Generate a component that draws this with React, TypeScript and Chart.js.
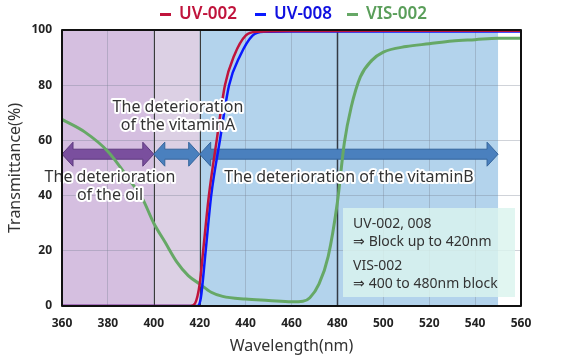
import React, { useEffect, useRef } from "react";
import { Chart, registerables } from "chart.js";

Chart.register(...registerables);

const seriesNames = ["UV-002", "UV-008", "VIS-002"];
const seriesColors = ["#c0143c", "#0a1aff", "#66a866"];
const legendTextColors = ["#c0143c", "#1010e0", "#5a9e5a"];

const uv002Wavelengths = [360, 400, 416, 418, 420, 421.5, 424, 427.4, 431, 435, 440, 445, 460, 500, 560];
const uv002Values = [0, 0, 0, 1, 8, 20, 40, 60, 80, 90.7, 98, 99.4, 99.6, 99.7, 99.7];

const uv008Wavelengths = [360, 400, 419, 420.5, 422.6, 425, 428.8, 432.8, 437.6, 443, 448, 460, 500, 560];
const uv008Values = [0, 0, 0, 3, 20, 40, 60, 80, 90.7, 98, 99.4, 99.5, 99.5, 99.5];

const vis002Wavelengths = [360, 370, 380, 390, 395, 400, 405, 410, 415, 420, 425, 430, 440, 450, 460, 465, 468, 472, 476, 480, 483, 486, 490, 495, 500, 510, 520, 530, 540, 550, 560];
const vis002Values = [67.6, 63, 56, 45, 39, 30, 23, 16, 11, 8, 5, 3.5, 2.5, 2, 1.5, 1.7, 3, 8, 18, 37.6, 59, 72, 83, 89, 92, 94, 95, 96, 96.5, 97, 97];

const xTicks = [360, 380, 400, 420, 440, 460, 480, 500, 520, 540, 560];
const yTicks = [0, 20, 40, 60, 80, 100];

const bandRanges = [
  [360, 400],
  [400, 420],
  [420, 550],
];
const bandColors = ["#d5bfe0", "#dcd0e4", "#b3d3ec"];
const dividerWavelengths = [400, 420, 480];

const arrowRanges = [
  [360, 400],
  [400, 420],
  [420, 550],
];
const arrowLevel = 55;
const arrowColors = ["#7a4f9e", "#4a80be", "#4a80be"];

const FONT = "'Noto Sans', 'Open Sans', sans-serif";

function pts(xs: number[], ys: number[]) {
  return xs.map((x, i) => ({ x, y: ys[i] }));
}

const annotationPlugin = {
  id: "annot",
  beforeDraw(chart: any) {
    const { ctx, chartArea } = chart;
    const xs = chart.scales.x;
    ctx.save();
    ctx.fillStyle = "#ffffff";
    ctx.fillRect(chartArea.left, chartArea.top, chartArea.right - chartArea.left, chartArea.bottom - chartArea.top);
    bandRanges.forEach((r, i) => {
      const x0 = xs.getPixelForValue(r[0]);
      const x1 = xs.getPixelForValue(r[1]);
      ctx.fillStyle = bandColors[i];
      ctx.fillRect(x0, chartArea.top, x1 - x0, chartArea.bottom - chartArea.top);
    });
    ctx.restore();
  },
  beforeDatasetsDraw(chart: any) {
    const { ctx, chartArea } = chart;
    const xs = chart.scales.x;
    const ys = chart.scales.y;
    ctx.save();
    dividerWavelengths.forEach((w, i) => {
      const x = Math.round(xs.getPixelForValue(w)) + 0.5;
      ctx.strokeStyle = i === 2 ? "#333a44" : "#3a3a3a";
      ctx.lineWidth = i === 2 ? 1.5 : 1;
      ctx.beginPath();
      ctx.moveTo(x, chartArea.top);
      ctx.lineTo(x, chartArea.bottom);
      ctx.stroke();
    });
    const yc = ys.getPixelForValue(arrowLevel);
    const shaftH = 10;
    const headH = 24;
    const headL = 11;
    arrowRanges.forEach((r, i) => {
      const x0 = xs.getPixelForValue(r[0]);
      const x1 = xs.getPixelForValue(r[1]);
      ctx.beginPath();
      ctx.moveTo(x0, yc);
      ctx.lineTo(x0 + headL, yc - headH / 2);
      ctx.lineTo(x0 + headL, yc - shaftH / 2);
      ctx.lineTo(x1 - headL, yc - shaftH / 2);
      ctx.lineTo(x1 - headL, yc - headH / 2);
      ctx.lineTo(x1, yc);
      ctx.lineTo(x1 - headL, yc + headH / 2);
      ctx.lineTo(x1 - headL, yc + shaftH / 2);
      ctx.lineTo(x0 + headL, yc + shaftH / 2);
      ctx.lineTo(x0 + headL, yc + headH / 2);
      ctx.closePath();
      ctx.fillStyle = arrowColors[i];
      ctx.fill();
      ctx.strokeStyle = i === 0 ? "#5d3a7e" : "#35659c";
      ctx.lineWidth = 1;
      ctx.stroke();
    });
    ctx.restore();
  },
  afterDatasetsDraw(chart: any) {
    const { ctx, chartArea } = chart;
    ctx.save();
    ctx.fillStyle = "rgba(218, 244, 238, 0.82)";
    ctx.fillRect(343, 208, 172, 89);
    ctx.font = `14px ${FONT}`;
    ctx.fillStyle = "#333333";
    ctx.textBaseline = "middle";
    ctx.textAlign = "left";
    ctx.fillText("UV-002, 008", 353, 224);
    ctx.fillText("⇒ Block up to 420nm", 353, 242);
    ctx.fillText("VIS-002", 353, 266);
    ctx.fillText("⇒ 400 to 480nm block", 353, 284);

    const labels: [string, number, number][] = [
      ["The deterioration", 178, 107],
      ["of the vitaminA", 178, 125],
      ["The deterioration", 110, 177],
      ["of the oil", 110, 195],
      ["The deterioration of the vitaminB", 349, 177],
    ];
    ctx.font = `16px ${FONT}`;
    ctx.textAlign = "center";
    ctx.lineJoin = "round";
    labels.forEach(([t, x, y]) => {
      ctx.strokeStyle = "#ffffff";
      ctx.lineWidth = 4;
      ctx.strokeText(t, x, y);
      ctx.fillStyle = "#333333";
      ctx.fillText(t, x, y);
    });

    ctx.strokeStyle = "#111111";
    ctx.lineWidth = 2;
    ctx.strokeRect(chartArea.left, chartArea.top, chartArea.right - chartArea.left, chartArea.bottom - chartArea.top);
    ctx.restore();
  },
  afterDraw(chart: any) {
    const { ctx } = chart;
    ctx.save();
    const dashX = [160, 255, 347];
    ctx.font = `600 17px ${FONT}`;
    ctx.textBaseline = "middle";
    ctx.textAlign = "left";
    seriesNames.forEach((name, i) => {
      ctx.fillStyle = seriesColors[i];
      ctx.fillRect(dashX[i], 13, 11, 3);
      ctx.fillStyle = legendTextColors[i];
      ctx.fillText(name, dashX[i] + 19, 14);
    });
    ctx.restore();
  },
};

export default function App() {
  const ref = useRef<HTMLCanvasElement | null>(null);
  useEffect(() => {
    if (!ref.current) return;
    const data = [
      pts(uv002Wavelengths, uv002Values),
      pts(uv008Wavelengths, uv008Values),
      pts(vis002Wavelengths, vis002Values),
    ];
    const chart = new Chart(ref.current, {
      type: "line",
      data: {
        datasets: seriesNames.map((name, i) => ({
          label: name,
          data: data[i],
          borderColor: seriesColors[i],
          backgroundColor: seriesColors[i],
          borderWidth: i === 2 ? 3 : 2.5,
          pointRadius: 0,
          tension: 0.4,
          cubicInterpolationMode: "monotone" as const,
          fill: false,
        })),
      },
      options: {
        animation: false,
        responsive: true,
        maintainAspectRatio: false,
        layout: { padding: { left: 0, right: 67, top: 30, bottom: 0 } },
        plugins: {
          tooltip: { enabled: false },
          legend: { display: false },
        },
        scales: {
          x: {
            type: "linear",
            min: 360,
            max: 560,
            afterBuildTicks: (s: any) => {
              s.ticks = xTicks.map((v) => ({ value: v }));
            },
            afterFit: (s: any) => {
              s.height = 54;
            },
            grid: { color: "rgba(120,130,145,0.35)", drawTicks: false },
            border: { display: false },
            ticks: {
              padding: 10,
              color: "#222",
              font: { size: 12, family: FONT, weight: "bold" as any },
              maxRotation: 0,
            },
            title: {
              display: true,
              text: "Wavelength(nm)",
              color: "#333",
              font: { size: 16, family: FONT },
              padding: { top: 4, bottom: 4 },
            },
          },
          y: {
            min: 0,
            max: 100,
            afterBuildTicks: (s: any) => {
              s.ticks = yTicks.map((v) => ({ value: v }));
            },
            afterFit: (s: any) => {
              s.width = 62;
            },
            grid: { color: "rgba(120,130,145,0.35)", drawTicks: false },
            border: { display: false },
            ticks: {
              padding: 10,
              color: "#222",
              font: { size: 12, family: FONT, weight: "bold" as any },
            },
            title: {
              display: true,
              text: "Transmittance(%)",
              color: "#333",
              font: { size: 16, family: FONT },
              padding: { top: 6, bottom: 4 },
            },
          },
        },
      },
      plugins: [annotationPlugin],
    });
    return () => chart.destroy();
  }, []);
  return (
    <div style={{ position: "absolute", left: 0, top: 0, width: 588, height: 360, background: "#fff" }}>
      <canvas ref={ref} />
    </div>
  );
}
